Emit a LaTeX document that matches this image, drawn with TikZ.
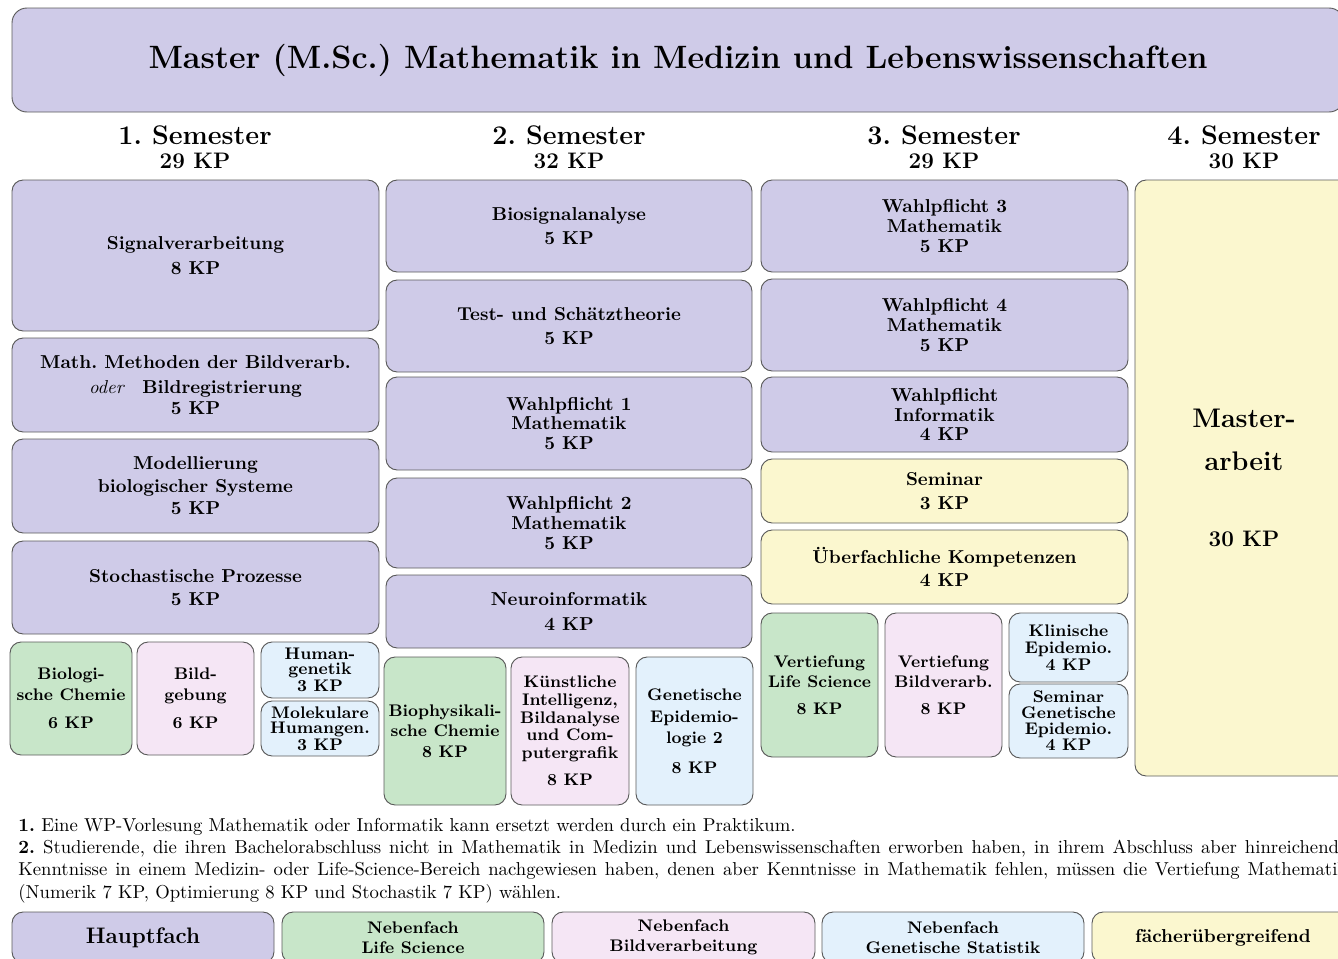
\documentclass[tikz,border=0pt]{standalone}
\usepackage{tikz}
\usetikzlibrary{positioning}
\usepackage{xcolor}
\definecolor{hfcol}{HTML}{CFCBE8}
\definecolor{lscol}{HTML}{C8E6C9}
\definecolor{bvcol}{HTML}{F5E6F5}
\definecolor{gscol}{HTML}{E3F1FC}
\definecolor{fucol}{HTML}{FBF7CF}
\definecolor{edge} {HTML}{5C5C5C}
\frenchspacing
\tikzset{
  cell/.style    = {draw=edge, line width=0.5pt, rounded corners=6pt,
                    inner sep=0pt, align=center, font=\bfseries},
  cellpos/.style args = {#1/#2/#3/#4}{at={({(#1+#3)/2},{(#2+#4)/2})},
                    minimum width={(#3-#1)*0.535pt},
                    minimum height={(#4-#2)*0.535pt}},
  hf/.style      = {cell, fill=hfcol},
  ls/.style      = {cell, fill=lscol, font=\small\bfseries},
  bv/.style      = {cell, fill=bvcol, font=\small\bfseries},
  gs/.style      = {cell, fill=gscol, font=\small\bfseries},
  fu/.style      = {cell, fill=fucol},
  tight/.style   = {font=\fontsize{10}{10.5}\selectfont\bfseries},
  semhead/.style = {font=\Large\bfseries, anchor=base},
  kphead/.style  = {font=\large\bfseries, anchor=base},
  note/.style    = {anchor=base west, inner sep=0pt, text width=711pt,
                    align=justify, font=\normalsize},
}

\begin{document}
\begin{tikzpicture}[x=0.535pt, y=-0.535pt]
  \useasboundingbox (0,0) rectangle (1338,958);

  \node[hf, rounded corners=8pt, cellpos=12/8/1344/112, font=\LARGE\bfseries] (title)
    {Master (M.Sc.) Mathematik in Medizin und Lebenswissenschaften};

  \foreach \n/\x/\kp in {1/195/29, 2/569/32, 3/944/29, 4/1244/30} {
    \node[semhead] (sem\n) at (\x,144) {\n. Semester};
    \node[kphead]  (kp\n)  at (\x,168) {\kp\ KP};
  }

  % 1. Semester
  \node[hf, cellpos=12/180/379/331] (signal) {Signalverarbeitung\\[1pt]8 KP};
  \node[hf, cellpos=12/338/379/432] (bildmeth)
    {Math. Methoden der Bildverarb.\\[1.5pt]{\mdseries\itshape oder}\quad Bildregistrierung\\[-1pt]5 KP};
  \node[hf, cellpos=12/439/379/533] (modell) {Modellierung\\biologischer Systeme\\5 KP};
  \node[hf, cellpos=12/541/379/634] (stoch) {Stochastische Prozesse\\5 KP};
  \node[ls, cellpos=10/642/132/755] (biochem) {Biologi-\\sche Chemie\\[4pt]6 KP};
  \node[bv, cellpos=137/642/254/755] (bildgeb) {Bild-\\gebung\\[4pt]6 KP};
  \node[gs, cellpos=261/642/379/698, font=\fontsize{9}{7.9}\selectfont\bfseries] (humgen)
    {Human-\\genetik\\3 KP};
  \node[gs, cellpos=261/701/379/756, font=\fontsize{9}{7.9}\selectfont\bfseries] (molhum)
    {Molekulare\\Humangen.\\3 KP};

  % 2. Semester
  \node[hf, cellpos=386/180/752/272] (biosig) {Biosignalanalyse\\[1pt]5 KP};
  \node[hf, cellpos=386/280/752/372] (test) {Test- und Schätztheorie\\[1pt]5 KP};
  \node[hf, tight, cellpos=386/377/752/470] (wp1) {Wahlpflicht 1\\Mathematik\\5 KP};
  \node[hf, tight, cellpos=386/478/752/568] (wp2) {Wahlpflicht 2\\Mathematik\\5 KP};
  \node[hf, cellpos=386/575/752/648] (neuro) {Neuroinformatik\\[1pt]4 KP};
  \node[ls, cellpos=384/657/506/805] (biophys) {Biophysikali-\\sche Chemie\\8 KP};
  \node[bv, cellpos=511/657/629/805, font=\fontsize{9}{9.5}\selectfont\bfseries] (kuenst)
    {Künstliche\\Intelligenz,\\Bildanalyse\\und Com-\\putergrafik\\[5pt]8 KP};
  \node[gs, cellpos=636/657/753/805] (genepi) {Genetische\\[1pt]Epidemio-\\logie 2\\[5pt]8 KP};

  % 3. Semester
  \node[hf, tight, cellpos=761/180/1128/272] (wp3) {Wahlpflicht 3\\Mathematik\\5 KP};
  \node[hf, tight, cellpos=761/279/1128/371] (wp4) {Wahlpflicht 4\\Mathematik\\5 KP};
  \node[hf, tight, cellpos=761/377/1128/452] (wpinf) {Wahlpflicht\\Informatik\\4 KP};
  \node[fu, cellpos=761/459/1128/523] (seminar) {Seminar\\[1pt]3 KP};
  \node[fu, cellpos=761/530/1128/604] (ueber) {Überfachliche Kompetenzen\\4 KP};
  \node[ls, cellpos=761/613/878/757] (vtls) {Vertiefung\\Life Science\\[3pt]8 KP};
  \node[bv, cellpos=885/613/1002/757] (vtbv) {Vertiefung\\Bildverarb.\\[3pt]8 KP};
  \node[gs, cellpos=1009/613/1128/682, font=\fontsize{9}{9.1}\selectfont\bfseries] (klin)
    {Klinische\\Epidemio.\\4 KP};
  \node[gs, cellpos=1009/684/1128/758, font=\fontsize{9}{8.6}\selectfont\bfseries] (semgen)
    {Seminar\\Genetische\\Epidemio.\\4 KP};

  % 4. Semester
  \node[fu, cellpos=1135/180/1353/776, font=\Large\bfseries] (thesis)
    {Master-\\[5pt]arbeit\\[23pt]{\large 30 KP}};

  % Fussnoten
  \node[note] (notes) at (18,831) {\textbf{1.} Eine WP-Vorlesung Mathematik oder Informatik kann ersetzt werden durch ein Praktikum.\\
    \textbf{2.} Studierende, die ihren Bachelorabschluss nicht in Mathematik in Medizin und Lebenswissenschaften erworben haben, in ihrem Abschluss aber hinreichende\linebreak
    Kenntnisse in einem Medizin- oder Life-Science-Bereich nachgewiesen haben, denen aber Kenntnisse in Mathematik fehlen, müssen die Vertiefung Mathematik\linebreak
    (Numerik 7 KP, Optimierung 8 KP und Stochastik 7 KP) wählen.};

  % Legende
  \node[hf, cellpos=12/912/274/963, font=\large\bfseries] (lhf) {Hauptfach};
  \node[ls, cellpos=282/912/544/963] (lls) {Nebenfach\\Life Science};
  \node[bv, cellpos=552/912/815/963] (lbv) {Nebenfach\\Bildverarbeitung};
  \node[gs, cellpos=822/912/1084/963] (lgs) {Nebenfach\\Genetische Statistik};
  \node[fu, cellpos=1092/912/1354/963] (lfu) {fächerübergreifend};

\end{tikzpicture}
\end{document}
